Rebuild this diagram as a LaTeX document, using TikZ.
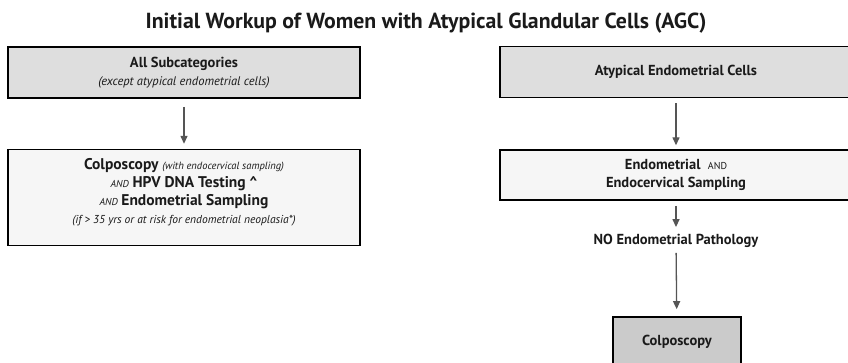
\documentclass[tikz,border=0pt]{standalone}
\usepackage{fontspec}
\setmainfont{PT Sans}
\usetikzlibrary{arrows.meta,positioning}
\definecolor{topgray}{HTML}{DEDEDE}
\definecolor{lowgray}{HTML}{F6F6F6}
\definecolor{endgray}{HTML}{CBCBCB}
\definecolor{arrgray}{HTML}{555555}
\definecolor{inkgray}{HTML}{1A1A1A}
\newcommand{\andsc}{{\mdseries\fontsize{10}{12}\selectfont AND}}
\newcommand{\notetext}[2][11.5]{{\itshape\mdseries\fontsize{#1}{13}\selectfont #2}}

\begin{document}
\begin{tikzpicture}[
  x=1pt,y=1pt,
  font=\fontsize{14.5}{18}\selectfont\bfseries,
  text=inkgray,
  box/.style={draw=black,line width=1.6pt,align=center,inner sep=2pt},
  topbox/.style={box,fill=topgray,minimum width=352pt,minimum height=51pt},
  lowbox/.style={box,fill=lowgray,minimum width=352pt},
  arr/.style={-{Triangle[length=8pt,width=7pt]},line width=1.3pt,draw=arrgray}
]
\useasboundingbox (0,-362) rectangle (848,0);
\node[font=\fontsize{21.8}{24}\selectfont\bfseries,anchor=base] (title) at (426,-28) {Initial Workup of Women with Atypical Glandular Cells (AGC)};

% left column
\node[topbox] (allsub) at (184,-72.5) {All Subcategories\\\notetext[12.5]{(except atypical endometrial cells)}};
\node[lowbox,minimum height=96pt,below=50pt of allsub] (workup) {%
  {\fontsize{15.5}{18}\selectfont Colposcopy} \notetext[10.5]{(with endocervical sampling)}\\
  {\itshape\andsc} {\fontsize{15.5}{18}\selectfont HPV DNA Testing \^{}}\\
  {\itshape\andsc} {\fontsize{15.5}{18}\selectfont Endometrial Sampling}\\
  \notetext{(if > 35 yrs or at risk for endometrial neoplasia*)}\\[-5pt]};
\draw[arr,shorten <=8pt,shorten >=5pt] (allsub) -- (workup);

% right column
\node[topbox] (aec) at (676,-72) {Atypical Endometrial Cells};
\node[lowbox,minimum height=50pt,below=51pt of aec] (sampling) {Endometrial\ \ \andsc\\Endocervical Sampling};
\node[inner sep=3pt] (nopath) at (676,-241) {NO Endometrial Pathology};
\node[box,fill=endgray,minimum width=128pt,minimum height=50pt] (colpo) at (677,-342) {Colposcopy};
\draw[arr,shorten <=5pt,shorten >=4pt] (aec) -- (sampling);
\draw[arr,shorten <=5pt,shorten >=4pt] (sampling) -- (nopath);
\draw[arr,shorten <=2pt,shorten >=7pt] (nopath) -- (colpo);
\end{tikzpicture}
\end{document}
